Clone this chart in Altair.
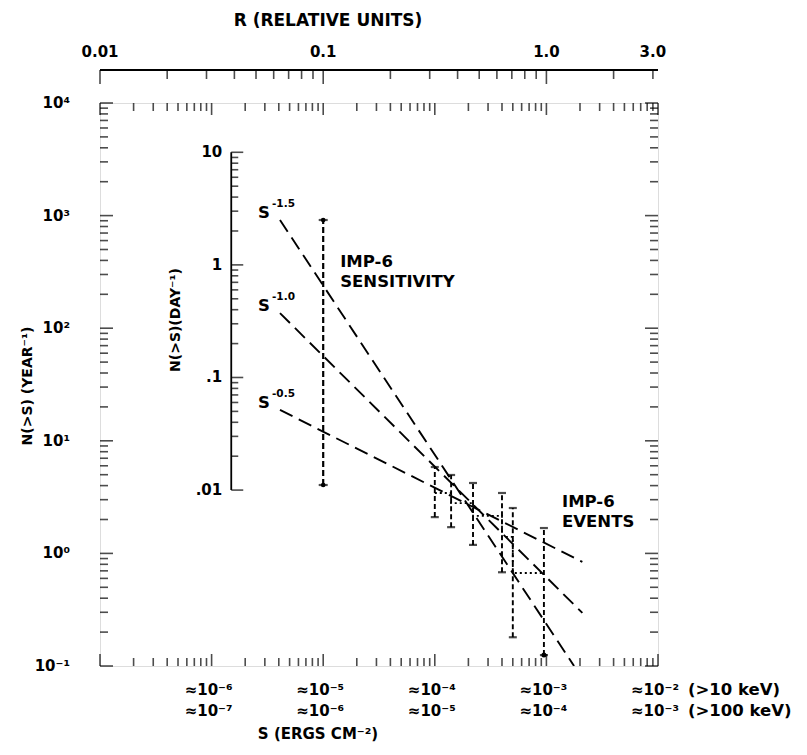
import altair as alt
import pandas as pd

# ---------------- values ----------------
# IMP-6 events: threshold fluence S (>10 keV, erg cm^-2) and cumulative rate N(>S) per year
EVENT_S = [1.0e-4, 1.4e-4, 2.2e-4, 4.0e-4, 5.0e-4, 9.5e-4]
EVENT_N = [3.44, 2.80, 2.15, 1.40, 0.67, 0.67]       # staircase level that starts at each event
EVENT_HI = [5.85, 4.97, 4.22, 3.44, 2.53, 1.68]
EVENT_LO = [2.10, 1.71, 1.19, 0.68, 0.18, 0.125]

# IMP-6 sensitivity bar
SENS_S = [1.0e-5]
SENS_LO = [4.05]
SENS_HI = [914.0]

# power-law reference lines (end points)
LINE_NAME = ["-1.5", "-1.0", "-0.5"]
LINE_S0 = [4.1e-6, 4.1e-6, 4.1e-6]
LINE_N0 = [914.0, 136.0, 18.8]
LINE_S1 = [1.77e-3, 2.1e-3, 2.1e-3]
LINE_N1 = [0.1, 0.296, 0.84]

# annotation anchors (data space)
NOTE_TEXT = ["IMP-6\nSENSITIVITY", "IMP-6\nEVENTS"]
NOTE_S = [1.42e-5, 1.38e-3]
NOTE_N = [390.0, 2.86]

# axes
Y_DECADES = [0.1, 1, 10, 100, 1000, 10000]
Y_LABELS = ["10⁻¹", "10⁰", "10¹", "10²", "10³", "10⁴"]
S_DECADES = [1e-7, 1e-6, 1e-5, 1e-4, 1e-3, 1e-2]
S_LABEL_AT = [1e-6, 1e-5, 1e-4, 1e-3, 1e-2]
S_LABELS_10KEV = ["≈10⁻⁶", "≈10⁻⁵", "≈10⁻⁴", "≈10⁻³", "≈10⁻²"]
S_LABELS_100KEV = ["≈10⁻⁷", "≈10⁻⁶", "≈10⁻⁵", "≈10⁻⁴", "≈10⁻³"]
KEV_LABELS = ["(>10 keV)", "(>100 keV)"]
R_DECADES = [0.01, 0.1, 1.0]
R_EXTRA_TICKS = [2.0, 3.0]
R_LABEL_AT = [0.01, 0.1, 1.0, 3.0]
R_LABELS = ["0.01", "0.1", "1.0", "3.0"]
R_DOMAIN = [0.01, 3.162]
DAY_DECADES = [0.01, 0.1, 1, 10]
DAY_LABELS = [".01", ".1", "1", "10"]
DAY_AXIS_S = 1.5e-6
DAYS_PER_YEAR = 365.0

W, H = 558, 563
FONT = "DejaVu Sans"
FW = "bold"
FS = 15

xS = alt.Scale(type="log", domain=[1e-7, 1e-2], nice=False)
yN = alt.Scale(type="log", domain=[0.1, 1e4], nice=False)
xR = alt.Scale(type="log", domain=R_DOMAIN, nice=False)


def minors(decades):
    return [k * d for d in decades[:-1] for k in range(2, 10)]


def y_ticks(vals, x_px, length, inward):
    df = pd.DataFrame({"v": vals})
    return alt.Chart(df).mark_tick(orient="horizontal", size=length, thickness=1.6,
                                   color="black", xOffset=inward * length / 2).encode(
        x=alt.value(x_px), y=alt.Y("v:Q", scale=yN, axis=None))


def x_ticks(vals, y_px, length, inward, scale):
    df = pd.DataFrame({"v": vals})
    return alt.Chart(df).mark_tick(orient="vertical", size=length, thickness=1.6,
                                   color="black", yOffset=inward * length / 2).encode(
        x=alt.X("v:Q", scale=scale, axis=None), y=alt.value(y_px))


def label(text, x, y, angle=0, size=FS, align="center"):
    return alt.Chart(pd.DataFrame({"t": [text]})).mark_text(
        font=FONT, fontWeight=FW, fontSize=size, angle=angle, align=align, baseline="middle",
        color="black").encode(text="t:N", x=alt.value(x), y=alt.value(y))


def txt(**kw):
    base = dict(font=FONT, fontWeight=FW, fontSize=FS, baseline="middle", color="black")
    base.update(kw)
    return base


layers = []
# frame ticks
y_minor = minors(Y_DECADES)
layers += [y_ticks(Y_DECADES, 0, 13, 1), y_ticks(y_minor, 0, 8, 1),
           y_ticks(Y_DECADES, W, 13, -1), y_ticks(y_minor, W, 8, -1)]
s_minor = minors(S_DECADES)
layers += [x_ticks(S_DECADES, 0, 12, 1, xS), x_ticks(s_minor, 0, 8, 1, xS),
           x_ticks(S_DECADES, H, 12, -1, xS), x_ticks(s_minor, H, 8, -1, xS)]

# left labels
ylab = pd.DataFrame({"v": Y_DECADES, "t": Y_LABELS})
layers.append(alt.Chart(ylab).mark_text(**txt(align="right")).encode(
    x=alt.value(-30), y=alt.Y("v:Q", scale=yN, axis=None), text="t:N"))

# bottom labels (two energy bands)
slab = pd.DataFrame({"v": S_LABEL_AT, "a": S_LABELS_10KEV, "b": S_LABELS_100KEV})
layers.append(alt.Chart(slab).mark_text(**txt(align="center", dx=-3)).encode(
    x=alt.X("v:Q", scale=xS, axis=None), y=alt.value(H + 24), text="a:N"))
layers.append(alt.Chart(slab).mark_text(**txt(align="center", dx=-3)).encode(
    x=alt.X("v:Q", scale=xS, axis=None), y=alt.value(H + 45), text="b:N"))
layers.append(label(KEV_LABELS[0], W + 30, H + 24, align="left", size=16.5))
layers.append(label(KEV_LABELS[1], W + 30, H + 45, align="left", size=16.5))

# titles
layers.append(label("S (ERGS CM⁻²)", 218, H + 68, size=15))
layers.append(label("N(>S) (YEAR⁻¹)", -72, 283, angle=270, size=14))
layers.append(label("N(>S)(DAY⁻¹)", 76, 217, angle=270, size=14))

# inner per-day axis
day_line = pd.DataFrame({"S": [DAY_AXIS_S], "lo": [DAY_DECADES[0] * DAYS_PER_YEAR],
                         "hi": [DAY_DECADES[-1] * DAYS_PER_YEAR]})
layers.append(alt.Chart(day_line).mark_rule(strokeWidth=1.8, color="black").encode(
    x=alt.X("S:Q", scale=xS, axis=None), y=alt.Y("lo:Q", scale=yN, axis=None), y2="hi:Q"))
day_major = pd.DataFrame({"S": DAY_AXIS_S, "N": [d * DAYS_PER_YEAR for d in DAY_DECADES], "t": DAY_LABELS})
day_minor = pd.DataFrame({"S": DAY_AXIS_S, "N": [d * DAYS_PER_YEAR for d in minors(DAY_DECADES)]})
for df, ln in [(day_major, 12), (day_minor, 7)]:
    layers.append(alt.Chart(df).mark_tick(orient="horizontal", size=ln, thickness=1.6, color="black",
                                          xOffset=ln / 2).encode(
        x=alt.X("S:Q", scale=xS, axis=None), y=alt.Y("N:Q", scale=yN, axis=None)))
layers.append(alt.Chart(day_major).mark_text(**txt(align="right", dx=-9)).encode(
    x=alt.X("S:Q", scale=xS, axis=None), y=alt.Y("N:Q", scale=yN, axis=None), text="t:N"))

# power-law lines
pl = pd.DataFrame({
    "name": LINE_NAME * 2,
    "S": LINE_S0 + LINE_S1,
    "N": LINE_N0 + LINE_N1,
})
layers.append(alt.Chart(pl).mark_line(strokeDash=[14, 7], strokeWidth=1.9, color="black", clip=True).encode(
    x=alt.X("S:Q", scale=xS, axis=None), y=alt.Y("N:Q", scale=yN, axis=None), detail="name:N"))
plab = pd.DataFrame({"name": LINE_NAME, "S": LINE_S0, "N": LINE_N0})
layers.append(alt.Chart(plab).mark_text(**txt(align="center", fontSize=16.5, dx=-16, dy=-7)).encode(
    x=alt.X("S:Q", scale=xS, axis=None), y=alt.Y("N:Q", scale=yN, axis=None), text=alt.value("S")))
layers.append(alt.Chart(plab).mark_text(**txt(align="left", fontSize=10.5, dx=-8, dy=-16)).encode(
    x=alt.X("S:Q", scale=xS, axis=None), y=alt.Y("N:Q", scale=yN, axis=None), text="name:N"))

# sensitivity bar
sens = pd.DataFrame({"S": SENS_S, "lo": SENS_LO, "hi": SENS_HI})
layers.append(alt.Chart(sens).mark_rule(strokeDash=[6, 3], strokeWidth=2.2, color="black").encode(
    x=alt.X("S:Q", scale=xS, axis=None), y=alt.Y("lo:Q", scale=yN, axis=None), y2="hi:Q"))
for col in ["lo", "hi"]:
    layers.append(alt.Chart(sens).mark_tick(orient="horizontal", size=9, thickness=2.2, color="black").encode(
        x=alt.X("S:Q", scale=xS, axis=None), y=alt.Y(f"{col}:Q", scale=yN, axis=None)))
    layers.append(alt.Chart(sens).mark_point(filled=True, size=22, color="black", opacity=1).encode(
        x=alt.X("S:Q", scale=xS, axis=None), y=alt.Y(f"{col}:Q", scale=yN, axis=None)))

# events: error bars, caps and staircase
ev = pd.DataFrame({"S": EVENT_S, "N": EVENT_N, "hi": EVENT_HI, "lo": EVENT_LO})
layers.append(alt.Chart(ev).mark_rule(strokeDash=[5, 3], strokeWidth=1.9, color="black").encode(
    x=alt.X("S:Q", scale=xS, axis=None), y=alt.Y("lo:Q", scale=yN, axis=None), y2="hi:Q"))
for col in ["lo", "hi"]:
    layers.append(alt.Chart(ev).mark_tick(orient="horizontal", size=8, thickness=2.2, color="black").encode(
        x=alt.X("S:Q", scale=xS, axis=None), y=alt.Y(f"{col}:Q", scale=yN, axis=None)))
layers.append(alt.Chart(ev).mark_line(interpolate="step-after", strokeDash=[2, 3], strokeWidth=1.8,
                                      color="black").encode(
    x=alt.X("S:Q", scale=xS, axis=None), y=alt.Y("N:Q", scale=yN, axis=None)))
last = pd.DataFrame({"S": EVENT_S[-1:], "lo": EVENT_LO[-1:]})
layers.append(alt.Chart(last).mark_point(filled=True, size=25, color="black", opacity=1).encode(
    x=alt.X("S:Q", scale=xS, axis=None), y=alt.Y("lo:Q", scale=yN, axis=None)))

# annotations
notes = pd.DataFrame({"S": NOTE_S, "N": NOTE_N, "t": NOTE_TEXT})
layers.append(alt.Chart(notes).mark_text(**txt(align="left", fontSize=16.5, lineBreak="\n",
                                               lineHeight=20)).encode(
    x=alt.X("S:Q", scale=xS, axis=None), y=alt.Y("N:Q", scale=yN, axis=None), text="t:N"))

main = alt.layer(*layers)

# top R axis (independent scale)
r_minor = minors(R_DECADES) + R_EXTRA_TICKS
R_Y = -33
r_layers = [
    alt.Chart(pd.DataFrame({"v": [0]})).mark_rule(strokeWidth=1.8, color="black").encode(
        x=alt.value(0), x2=alt.value(W), y=alt.value(R_Y)),
    x_ticks(R_DECADES, R_Y, 14, 1, xR),
    x_ticks(r_minor, R_Y, 9, 1, xR),
    alt.Chart(pd.DataFrame({"v": R_LABEL_AT, "t": R_LABELS})).mark_text(**txt(align="center")).encode(
        x=alt.X("v:Q", scale=xR, axis=None), y=alt.value(R_Y - 18), text="t:N"),
    label("R (RELATIVE UNITS)", 228, -82, size=17),
]
rgrp = alt.layer(*r_layers)

chart = alt.layer(main, rgrp).resolve_scale(x="independent").properties(
    width=W, height=H,
    autosize=alt.AutoSizeParams(type="none"),
    padding={"left": 92, "top": 95, "right": 141, "bottom": 81},
).configure_view(stroke="black", strokeWidth=2).configure(background="white")

chart.save("out.html", embed_options={"renderer": "svg", "actions": False})
